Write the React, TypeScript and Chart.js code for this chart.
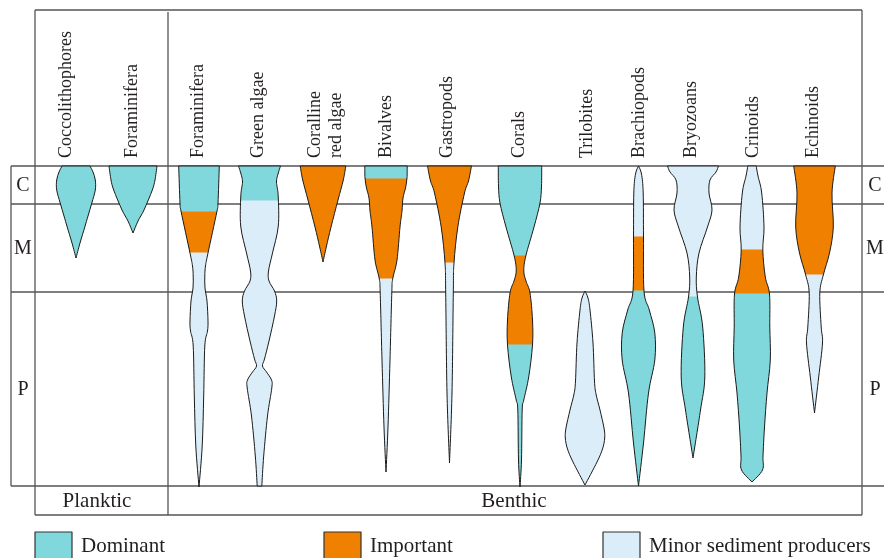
import React, { useEffect, useRef } from 'react';
import { Chart, registerables } from 'chart.js';

Chart.register(...registerables);

// ---------- data ----------
// time axis in diagram units: 0 = top of Cenozoic, 320 = base of Paleozoic
const ERA_LABELS = ['C', 'M', 'P'];
const ERA_BOUNDS = [0, 38, 126, 320];

const TAXA = [
  'Coccolithophores', 'Foraminifera', 'Foraminifera', 'Green algae', 'Coralline\nred algae',
  'Bivalves', 'Gastropods', 'Corals', 'Trilobites', 'Brachiopods', 'Bryozoans', 'Crinoids', 'Echinoids',
];
const HABITATS = ['Planktic', 'Benthic'];
const PLANKTIC_COUNT = 2;

// spindle profiles: [time, half-width]
const coccolithophoresProfile = [[0, 14], [6, 17], [14, 19.3], [24, 19.3], [37, 15.8], [50, 12], [61, 8.8], [77, 4], [92, 0]];
const planktonForamProfile = [[0, 24], [14, 22], [24, 19.3], [44, 11], [55, 5], [67, 0]];
const benthicForamProfile = [[0, 20.3], [37, 19], [46, 17.8], [87, 9], [100, 6.5], [110, 5.8], [122, 6], [135, 8], [155, 9], [165, 8.5], [180, 5.8], [230, 4.7], [280, 3.2], [321, 0]];
const greenAlgaeProfile = [[0, 21], [8, 18.5], [16, 17], [30, 18.7], [60, 18.8], [87, 13], [105, 9], [115, 9.5], [125, 15], [135, 17.2], [150, 15], [175, 9.5], [193, 5], [200, 3], [206, 7], [214, 12], [222, 12.3], [250, 8], [290, 4.2], [320, 2.3]];
const corallineProfile = [[0, 22.8], [14, 20.3], [34, 15], [61, 8], [81, 3.3], [96, 0]];
const bivalvesProfile = [[0, 21.2], [12, 21], [22, 19.5], [32, 17], [45, 16], [61, 14], [94, 11], [113, 6.7], [127, 5.8], [194, 4], [261, 2], [306, 0]];
const gastropodsProfile = [[0, 22], [15, 19], [27, 15], [61, 8.3], [97, 4.5], [127, 3.8], [227, 2.5], [297, 0]];
const coralsProfile = [[0, 21.7], [20, 21.5], [37, 20], [61, 14], [90, 5.8], [105, 3.8], [115, 6], [127, 10], [154, 12.5], [179, 12.5], [211, 8.7], [234, 3.8], [244, 2.2], [294, 1.5], [321, 0]];
const trilobitesProfile = [[125, 0], [132, 3], [144, 5], [177, 8], [215, 9.5], [228, 11], [244, 15], [262, 19], [272, 19.7], [283, 17.5], [296, 12], [319, 0]];
const brachiopodsProfile = [[0, 0], [8, 3], [27, 4.7], [71, 5], [125, 5.5], [144, 10.8], [167, 16.3], [194, 16.3], [227, 10], [277, 5], [320, 0]];
const bryozoansProfile = [[0, 25.5], [6, 23], [14, 17], [27, 16], [44, 19], [61, 14.5], [87, 6], [111, 3.3], [131, 4.5], [161, 9.7], [211, 11.8], [244, 7.5], [292, 0]];
const crinoidsProfile = [[0, 4.2], [10, 6], [27, 9.7], [61, 12], [84, 10.8], [111, 13.3], [128, 17.5], [161, 17.8], [194, 18.3], [227, 15], [261, 12.5], [290, 11], [304, 10.5], [316, 0]];
const echinoidsProfile = [[0, 20.8], [27, 17.5], [61, 18.8], [87, 15], [109, 8.8], [127, 5.3], [161, 6.7], [177, 8], [211, 4.2], [247, 0]];

// status bands: [from, to, category]  D = dominant, I = important, M = minor
const coccolithophoresStatus = [[0, 92, 'D']];
const planktonForamStatus = [[0, 67, 'D']];
const benthicForamStatus = [[0, 46, 'D'], [46, 87, 'I'], [87, 321, 'M']];
const greenAlgaeStatus = [[0, 35, 'D'], [35, 320, 'M']];
const corallineStatus = [[0, 96, 'I']];
const bivalvesStatus = [[0, 13, 'D'], [13, 113, 'I'], [113, 306, 'M']];
const gastropodsStatus = [[0, 97, 'I'], [97, 297, 'M']];
const coralsStatus = [[0, 90, 'D'], [90, 179, 'I'], [179, 321, 'D']];
const trilobitesStatus = [[125, 319, 'M']];
const brachiopodsStatus = [[0, 71, 'M'], [71, 125, 'I'], [125, 320, 'D']];
const bryozoansStatus = [[0, 131, 'M'], [131, 292, 'D']];
const crinoidsStatus = [[0, 84, 'M'], [84, 128, 'I'], [128, 316, 'D']];
const echinoidsStatus = [[0, 109, 'I'], [109, 247, 'M']];

const PROFILES = [coccolithophoresProfile, planktonForamProfile, benthicForamProfile, greenAlgaeProfile, corallineProfile, bivalvesProfile, gastropodsProfile, coralsProfile, trilobitesProfile, brachiopodsProfile, bryozoansProfile, crinoidsProfile, echinoidsProfile];
const STATUSES = [coccolithophoresStatus, planktonForamStatus, benthicForamStatus, greenAlgaeStatus, corallineStatus, bivalvesStatus, gastropodsStatus, coralsStatus, trilobitesStatus, brachiopodsStatus, bryozoansStatus, crinoidsStatus, echinoidsStatus];

const CATEGORY_KEYS = ['D', 'I', 'M'];
const CATEGORY_LABELS = ['Dominant', 'Important', 'Minor sediment producers'];

// ---------- layout & style ----------
const COLUMN_X = [76, 133, 199, 259.5, 323, 386, 449.5, 520, 585, 638.5, 693, 752, 814.5];
const HEADER_X = [70.5, 137, 202.5, 263, 319.5, 391, 452, 524, 591.5, 644, 696, 758, 818];
const CATEGORY_COLORS = { D: '#80d8dc', I: '#f08000', M: '#dbedf8' };
const LEGEND_X = [35, 324, 603];
const LINE_COLOR = '#555555';
const TEXT_COLOR = '#231f20';
const SERIF = '"Liberation Serif", "DejaVu Serif", serif';

function smoothSide(ctx: CanvasRenderingContext2D, pts: { x: number; y: number }[]) {
  for (let i = 0; i < pts.length - 1; i++) {
    const p0 = pts[i - 1] || pts[i];
    const p1 = pts[i];
    const p2 = pts[i + 1];
    const p3 = pts[i + 2] || p2;
    ctx.bezierCurveTo(
      p1.x + (p2.x - p0.x) / 6, p1.y + (p2.y - p0.y) / 6,
      p2.x - (p3.x - p1.x) / 6, p2.y - (p3.y - p1.y) / 6,
      p2.x, p2.y,
    );
  }
}

const diagramPlugin = {
  id: 'spindleDiagram',
  afterDraw(chart: any) {
    const ctx: CanvasRenderingContext2D = chart.ctx;
    const xs = chart.scales.x;
    const ys = chart.scales.y;
    const area = chart.chartArea;
    const eraLeft = 11;
    const frameLeft = 35;
    const frameRight = area.right;
    const top = area.top;
    const bottom = area.bottom;
    const yB = ERA_BOUNDS.map((b) => ys.getPixelForValue(b));

    ctx.save();
    // frame lines
    ctx.strokeStyle = LINE_COLOR;
    ctx.lineWidth = 1.3;
    ctx.beginPath();
    ctx.moveTo(frameLeft, top); ctx.lineTo(frameRight, top);
    ctx.moveTo(frameLeft, top); ctx.lineTo(frameLeft, bottom);
    ctx.moveTo(frameRight, top); ctx.lineTo(frameRight, bottom);
    ctx.moveTo(frameLeft, bottom); ctx.lineTo(frameRight, bottom);
    yB.forEach((y) => { ctx.moveTo(eraLeft, y); ctx.lineTo(chart.width, y); });
    ctx.moveTo(eraLeft, yB[0]); ctx.lineTo(eraLeft, yB[yB.length - 1]);
    const divX = (xs.getPixelForValue(COLUMN_X[PLANKTIC_COUNT - 1]) + xs.getPixelForValue(COLUMN_X[PLANKTIC_COUNT])) / 2 + 2;
    ctx.moveTo(divX, top + 2); ctx.lineTo(divX, bottom);
    ctx.stroke();

    // spindles
    chart.data.datasets.forEach((ds: any, i: number) => {
      const cx = COLUMN_X[i];
      const prof: number[][] = ds.profile;
      const left = prof.map(([t, hw]) => ({ x: xs.getPixelForValue(cx - hw), y: ys.getPixelForValue(t) }));
      const right = prof.map(([t, hw]) => ({ x: xs.getPixelForValue(cx + hw), y: ys.getPixelForValue(t) })).reverse();
      const path = () => {
        ctx.beginPath();
        ctx.moveTo(left[0].x, left[0].y);
        smoothSide(ctx, left);
        ctx.lineTo(right[0].x, right[0].y);
        smoothSide(ctx, right);
        ctx.closePath();
      };
      ctx.save();
      path();
      ctx.clip();
      const x0 = xs.getPixelForValue(cx) - 40;
      ds.status.forEach(([a, b, cat]: any) => {
        const ya = ys.getPixelForValue(a);
        const yb = ys.getPixelForValue(b);
        ctx.fillStyle = (CATEGORY_COLORS as any)[cat];
        ctx.fillRect(x0, ya - 0.5, 80, yb - ya + 1);
      });
      ctx.restore();
      path();
      ctx.strokeStyle = '#1a1a1a';
      ctx.lineWidth = 1;
      ctx.lineJoin = 'round';
      ctx.stroke();
    });

    // header labels (rotated)
    ctx.fillStyle = TEXT_COLOR;
    ctx.font = `18px ${SERIF}`;
    ctx.textAlign = 'left';
    ctx.textBaseline = 'alphabetic';
    TAXA.forEach((name, i) => {
      const lines = name.split('\n');
      lines.forEach((ln, k) => {
        ctx.save();
        ctx.translate(HEADER_X[i] + k * 21.5, yB[0] - 8);
        ctx.rotate(-Math.PI / 2);
        ctx.fillText(ln, 0, 0);
        ctx.restore();
      });
    });

    // era labels
    ctx.font = `20px ${SERIF}`;
    ctx.textAlign = 'center';
    ctx.textBaseline = 'middle';
    ERA_LABELS.forEach((lab, i) => {
      const y = (yB[i] + yB[i + 1]) / 2 + 1;
      ctx.fillText(lab, (eraLeft + frameLeft) / 2, y);
      ctx.fillText(lab, 875, y);
    });

    // habitat labels
    ctx.font = `21px ${SERIF}`;
    ctx.textBaseline = 'alphabetic';
    const habY = bottom - 8;
    ctx.fillText(HABITATS[0], 97, habY);
    ctx.fillText(HABITATS[1], 514, habY);

    // legend
    CATEGORY_KEYS.forEach((k, i) => {
      const lx = LEGEND_X[i];
      ctx.fillStyle = (CATEGORY_COLORS as any)[k];
      ctx.fillRect(lx, 532, 37, 30);
      ctx.strokeStyle = '#333333';
      ctx.lineWidth = 1.2;
      ctx.strokeRect(lx, 532, 37, 30);
      ctx.fillStyle = TEXT_COLOR;
      ctx.textAlign = 'left';
      ctx.fillText(CATEGORY_LABELS[i], lx + 46, 552);
    });
    ctx.restore();
  },
};

export default function App() {
  const ref = useRef<HTMLCanvasElement | null>(null);
  useEffect(() => {
    if (!ref.current) return;
    const chart = new Chart(ref.current, {
      type: 'scatter',
      data: {
        datasets: TAXA.map((name, i) => ({
          label: name,
          data: PROFILES[i].map(([t]) => ({ x: COLUMN_X[i], y: t })),
          pointRadius: 0,
          showLine: false,
          profile: PROFILES[i],
          status: STATUSES[i],
        })) as any,
      },
      options: {
        animation: false,
        responsive: false,
        devicePixelRatio: 1,
        layout: { padding: { left: 11, right: 22, top: 10, bottom: 43 } },
        scales: {
          x: { type: 'linear', min: 11, max: 862, display: false },
          y: { type: 'linear', min: -156, max: 349, reverse: true, display: false },
        },
        plugins: { legend: { display: false }, tooltip: { enabled: false } },
      },
      plugins: [diagramPlugin],
    });
    return () => chart.destroy();
  }, []);
  return (
    <div style={{ position: 'fixed', left: 0, top: 0, width: 884, height: 558, background: '#fff' }}>
      <canvas ref={ref} width={884} height={558} style={{ width: 884, height: 558, display: 'block' }} />
    </div>
  );
}
